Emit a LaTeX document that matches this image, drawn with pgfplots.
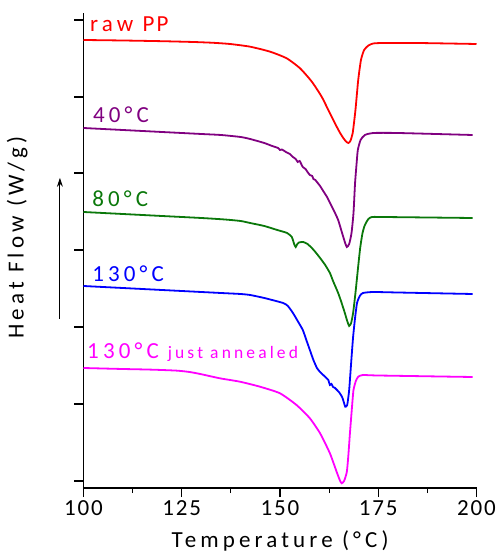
\documentclass[border=0pt]{standalone}
\usepackage{fontspec}
\setmainfont{Carlito}[LetterSpace=18]
\newfontfamily\tickfont{Carlito}[LetterSpace=8]
\usepackage{pgfplots}
\pgfplotsset{compat=1.18}
\usetikzlibrary{arrows.meta}
\definecolor{cred}{RGB}{255,0,0}
\definecolor{cpurple}{RGB}{128,0,128}
\definecolor{cgreen}{RGB}{10,120,10}
\definecolor{cblue}{RGB}{0,0,255}
\definecolor{cmag}{RGB}{255,0,255}
\begin{document}
\begin{tikzpicture}
\begin{axis}[
  at={(0,0)}, anchor=south west,
  scale only axis, width=393bp, height=475bp,
  xmin=100, xmax=200, ymin=0, ymax=475,
  axis x line=bottom, axis y line=left,
  axis line style={-, line width=1.2bp},
  xtick={100,125,150,175,200},
  minor xtick={112.5,137.5,162.5,187.5},
  ytick={7,84,161,238,315,391,468},
  yticklabels={},
  tick align=outside,
  major tick length=9bp, minor tick length=5bp,
  every tick/.style={black, line width=1.2bp},
  /pgf/number format/assume math mode=true,
  xticklabel style={font=\tickfont\fontsize{23bp}{27bp}\selectfont, text=black},
  clip=false,
  every axis plot/.append style={line width=1.8bp, no markers, smooth, tension=0.35},
]
\addplot[cred] coordinates {(100,448) (110,447.5) (120,446.8) (128,446) (133,445.2) (137.3,444) (142.4,441.3) (147.5,436.3) (151.7,429.7) (155.1,419.7) (158.1,406.3) (160.6,391.3) (162.7,374.7) (164.4,361.5) (165.3,355) (166.1,350) (166.8,346.5) (167.4,345) (167.9,347) (168.5,355) (169.2,378) (169.9,408) (170.6,428) (171.4,438) (172.5,442.5) (173.7,444.5) (176.2,445) (185,445) (200,444)};
\addplot[cpurple] coordinates {(100,360) (110,358) (120,356) (130,354) (135,353) (140,351) (142.4,349) (146,345) (148,342) (149.5,340) (150,338) (150.5,338.5) (151.5,336) (152.5,334) (153.3,331) (154,329) (154.5,326) (155,327) (155.8,321) (156.5,319) (157,316) (157.6,313) (158.2,312) (158.5,309) (159,308) (159.4,306) (160.2,302) (161,297) (161.96,291) (163,283) (164,275) (164.8,268) (165.8,255) (166.5,246) (167,241) (167.6,244) (168.2,255) (168.7,275) (169.1,305) (169.5,325) (169.8,338) (170.5,348) (171.6,353) (173.7,355) (180,355) (199,353)};
\addplot[cgreen] coordinates {(100,276) (110,274) (120,272) (130,270) (136,268.5) (140,267) (142.4,265) (146,262) (149.3,258) (151.8,255) (153,251) (153.6,244) (154,241) (154.4,244) (154.8,245.5) (155.9,246) (157,244) (158.1,240) (159,236) (160.2,230) (161.5,223) (162.7,215) (163.5,207) (164.8,195) (165.6,186) (166.5,175) (167.1,167) (167.6,162) (168.1,165) (168.6,175) (169.2,195) (169.8,218) (170.4,240) (171,255) (171.6,263) (172.5,269) (173.4,271) (176.2,271) (199,270)};
\addplot[cblue] coordinates {(100,202) (110,200) (120,198) (130,196) (136,194.8) (140,194) (142.4,193) (146,190) (150.8,185) (152,182) (153.3,175) (154.5,167) (155.8,158) (156.7,148) (157.6,138) (158.5,128) (159.4,120) (160.2,116) (161,113) (161.8,110) (162.3,108) (162.7,103) (163.1,104) (163.5,101) (164,100) (164.5,98) (165,96) (165.8,91) (166.3,85) (166.6,81.3) (167.1,83) (167.6,98) (168.1,125) (168.6,151) (169.1,170) (169.6,185) (170.3,192) (171.1,195) (173.7,196) (180,195.5) (199,194)};
\addplot[cmag] coordinates {(100,120) (110,119) (116,118.5) (120,118) (124,117.3) (127,116) (129.7,114) (134.7,109.7) (139.8,106.3) (144.9,101.3) (150,94.7) (154.2,83) (157.6,69.7) (160.2,54.7) (162.7,34.7) (164.4,16.3) (165.2,8) (165.7,4.7) (166.3,7) (167,16) (167.4,33) (167.8,55) (168.3,80) (168.7,98) (169.3,107) (169.9,111.3) (171.1,113) (175,112.5) (199,111)};
\node[anchor=base west, inner sep=0, text=cred, font=\fontsize{23bp}{27bp}\selectfont] at (axis cs:101.65,456) {raw P\hspace{2bp}P};
\node[anchor=base west, inner sep=0, text=cpurple, font=\fontsize{23bp}{27bp}\selectfont] at (axis cs:102.4,365) {40°C};
\node[anchor=base west, inner sep=0, text=cgreen, font=\fontsize{23bp}{27bp}\selectfont] at (axis cs:102.2,281) {80°C};
\node[anchor=base west, inner sep=0, text=cblue, font=\fontsize{23bp}{27bp}\selectfont] at (axis cs:102.2,206) {130°C};
\node[anchor=base west, inner sep=0, text=cmag, font=\fontsize{23bp}{27bp}\selectfont] at (axis cs:100.9,129) {130°C};
\node[anchor=base west, inner sep=0, text=cmag, font=\fontsize{17.5bp}{20bp}\selectfont] at (axis cs:121.4,129) {just annealed};
\node[anchor=base, inner sep=0, font=\fontsize{23bp}{27bp}\selectfont] at (rel axis cs:0.5,-0.126) {Temperature (°C)};
\node[anchor=center, rotate=90, inner sep=0, font=\fontsize{23bp}{27bp}\selectfont] at (rel axis cs:-0.169,0.527) {Heat Flow (W/g)};
\draw[-{Stealth[length=9bp,width=6bp]}, line width=0.9bp] (rel axis cs:-0.06,0.356) -- (rel axis cs:-0.06,0.653);
\end{axis}
\pgfresetboundingbox
\path[use as bounding box] (-83.5bp,-66bp) rectangle (415.5bp,488bp);
\end{tikzpicture}
\end{document}
